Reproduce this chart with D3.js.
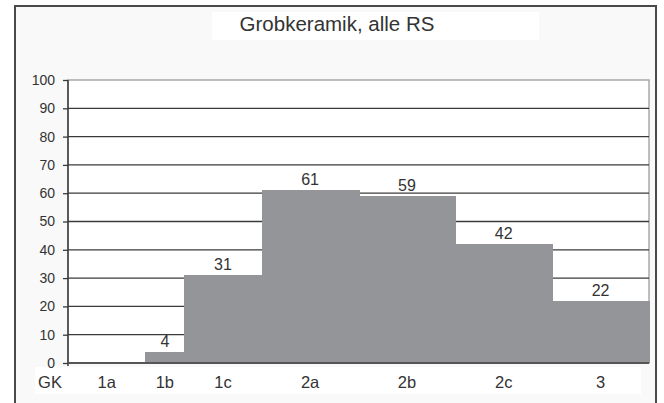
<!DOCTYPE html>
<html>
<head>
<meta charset="utf-8">
<script src="https://cdn.jsdelivr.net/npm/d3@7"></script>
<style>
  html, body { margin: 0; padding: 0; background: #ffffff; }
  svg { display: block; font-family: "Liberation Sans", Arial, Helvetica, sans-serif; }
</style>
</head>
<body>
<svg id="chart" width="664" height="403"></svg>
<script>
'use strict';

// data
var title = 'Grobkeramik, alle RS';
var axisName = 'GK';
var categories = ['1a', '1b', '1c', '2a', '2b', '2c', '3'];
var classWidths = [4, 2, 4, 5, 5, 5, 5];
var values = [0, 4, 31, 61, 59, 42, 22];
var yTicks = [0, 10, 20, 30, 40, 50, 60, 70, 80, 90, 100];

// bins from the class widths
var edges = [0];
classWidths.forEach(function(w, i){ edges.push(edges[i] + w); });
var bins = categories.map(function(c, i){
  return { cat: c, x0: edges[i], x1: edges[i + 1], value: values[i] };
});

var svg = d3.select('#chart');
var plot = { left: 68, right: 649, top: 80, bottom: 363 };

var x = d3.scaleLinear().domain([0, d3.sum(classWidths)]).range([plot.left, plot.right]);
var y = d3.scaleLinear().domain([0, 100]).range([plot.bottom, plot.top]);

// frame + backgrounds
svg.append('rect').attr('x', 15).attr('y', 6).attr('width', 641).attr('height', 420)
  .attr('fill', '#f9f9f9').attr('stroke', '#4a4a4a').attr('stroke-width', 2);
svg.append('rect').attr('x', 212).attr('y', 12).attr('width', 327).attr('height', 28).attr('fill', '#ffffff');
svg.append('rect').attr('x', 35).attr('y', 367).attr('width', 606).attr('height', 27).attr('fill', '#ffffff');
svg.append('rect').attr('x', plot.left).attr('y', plot.top)
  .attr('width', plot.right - plot.left).attr('height', plot.bottom - plot.top)
  .attr('fill', '#ffffff').attr('stroke', '#a8a8a8').attr('stroke-width', 1.5);

svg.append('text').attr('x', 337).attr('y', 31).attr('text-anchor', 'middle')
  .attr('font-size', 20.5).attr('fill', '#333333').text(title);

// gridlines
svg.append('g').selectAll('line').data(yTicks.filter(function(t){ return t > 0 && t < 100; }))
  .join('line')
  .attr('x1', plot.left).attr('x2', plot.right)
  .attr('y1', function(d){ return y(d); }).attr('y2', function(d){ return y(d); })
  .attr('stroke', '#3a3a3a').attr('stroke-width', 1.3);

// bars (crisp so neighbouring bins join without seams)
svg.append('g').attr('shape-rendering', 'crispEdges')
  .selectAll('rect').data(bins.filter(function(b){ return b.value > 0; }))
  .join('rect')
  .attr('x', function(d){ return Math.round(x(d.x0)); })
  .attr('width', function(d){ return Math.round(x(d.x1)) - Math.round(x(d.x0)) + 1; })
  .attr('y', function(d){ return y(d.value); })
  .attr('height', function(d){ return y(0) - y(d.value); })
  .attr('fill', '#939598');

// value labels
svg.append('g').selectAll('text').data(bins.filter(function(b){ return b.value > 0; }))
  .join('text')
  .attr('x', function(d){ return x((d.x0 + d.x1) / 2); })
  .attr('y', function(d){ return y(d.value) - 5; })
  .attr('text-anchor', 'middle').attr('font-size', 16).attr('fill', '#333333')
  .text(function(d){ return d.value; });

// y axis
var yAxis = svg.append('g').attr('transform', 'translate(' + plot.left + ',0)')
  .call(d3.axisLeft(y).tickValues(yTicks).tickSize(5).tickPadding(8));
yAxis.select('.domain').attr('stroke', '#3a3a3a').attr('stroke-width', 1.5)
  .attr('d', 'M0,' + plot.top + 'V' + (plot.bottom + 3));
yAxis.selectAll('.tick line').attr('stroke', '#3a3a3a').attr('stroke-width', 1.3);
yAxis.selectAll('.tick text').attr('font-size', 14).attr('fill', '#333333')
  .attr('font-family', '"Liberation Sans", Arial, sans-serif');

// baseline
svg.append('line').attr('x1', plot.left).attr('x2', plot.right)
  .attr('y1', y(0)).attr('y2', y(0)).attr('stroke', '#555555').attr('stroke-width', 2);

// category labels
svg.append('g').selectAll('text').data(bins).join('text')
  .attr('x', function(d){ return x((d.x0 + d.x1) / 2); })
  .attr('y', 388).attr('text-anchor', 'middle').attr('font-size', 16.5).attr('fill', '#333333')
  .text(function(d){ return d.cat; });
svg.append('text').attr('x', 50).attr('y', 388).attr('text-anchor', 'middle')
  .attr('font-size', 16.5).attr('fill', '#333333').text(axisName);
</script>
</body>
</html>
